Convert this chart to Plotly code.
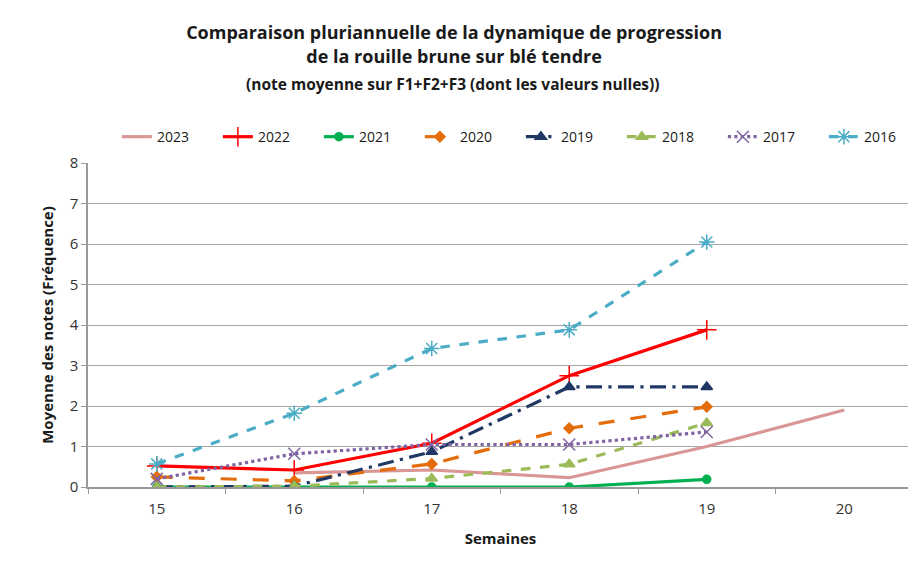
import plotly.graph_objects as go

weeks = ["15", "16", "17", "18", "19", "20"]
s2023 = [None, 0.35, 0.42, 0.23, 1.0, 1.9]
s2022 = [0.52, 0.42, 1.08, 2.75, 3.88, None]
s2021 = [0.0, 0.0, 0.0, 0.0, 0.19, None]
s2020 = [0.25, 0.15, 0.57, 1.45, 1.98, None]
s2019 = [0.0, 0.02, 0.87, 2.47, 2.47, None]
s2018 = [0.0, 0.02, 0.21, 0.56, 1.58, None]
s2017 = [0.2, 0.82, 1.05, 1.05, 1.36, None]
s2016 = [0.57, 1.82, 3.42, 3.88, 6.05, None]

series = [
    ("2023", s2023, "#D99694", "solid", None, 0),
    ("2022", s2022, "#FF0000", "solid", "cross-thin-open", 14),
    ("2021", s2021, "#00B050", "solid", "circle", 8),
    ("2020", s2020, "#E46C0A", "longdash", "diamond", 8),
    ("2019", s2019, "#1F3864", "longdashdot", "triangle-up", 10),
    ("2018", s2018, "#9BBB59", "dash", "triangle-up", 10),
    ("2017", s2017, "#8064A2", "dot", "x-thin-open", 12),
    ("2016", s2016, "#4BACC6", "dash", "asterisk-open", 13),
]

fig = go.Figure()
for name, vals, color, dash, sym, size in series:
    if sym is None:
        mode = "lines"
        marker = None
    else:
        mode = "lines+markers"
        marker = dict(symbol=sym, size=size, color=color, line=dict(color=color, width=1.5))
    fig.add_trace(go.Scatter(x=weeks, y=vals, name=name, mode=mode,
                             line=dict(color=color, width=3.2, dash=dash),
                             marker=marker, connectgaps=False))

font_family = "'Open Sans', sans-serif"
fig.update_layout(
    width=916, height=561,
    margin=dict(l=80, r=11, t=155, b=82, autoexpand=False),
    paper_bgcolor="white", plot_bgcolor="white",
    font=dict(family=font_family, size=14, color="#333333"),
    title=dict(
        text="<b>Comparaison pluriannuelle de la dynamique de progression<br>de la rouille brune sur blé tendre</b>",
        x=0.487, xanchor="center", y=0.944, yanchor="top",
        font=dict(size=18, color="#1a1a1a", family=font_family),
    ),
    annotations=[dict(
        text="<b>(note moyenne sur F1+F2+F3 (dont les valeurs nulles))</b>",
        xref="paper", yref="paper", x=0.442, y=1.244, xanchor="center", yanchor="middle",
        showarrow=False, font=dict(size=15.5, color="#1a1a1a", family=font_family),
    )],
    legend=dict(orientation="h", x=0.035, xanchor="left", y=1.08, yanchor="middle",
                font=dict(size=14, color="#1a1a1a"), entrywidth=56, traceorder="normal"),
    xaxis=dict(type="category", categoryorder="array", categoryarray=weeks,
               range=[-0.5, 5.5], showgrid=False, showline=True, linecolor="#999999",
               linewidth=1.5, ticks="outside", tickson="boundaries", ticklen=5,
               tickcolor="#999999", zeroline=False, ticklabelstandoff=7,
               tickfont=dict(size=15, color="#333333"),
               title=dict(text="<b>Semaines</b>", font=dict(size=15, color="#1a1a1a"), standoff=17)),
    yaxis=dict(range=[0, 8], dtick=1, showgrid=True, gridcolor="#A6A6A6", gridwidth=1.3,
               showline=True, linecolor="#999999", linewidth=1.5, ticks="outside", ticklen=5,
               tickcolor="#999999", zeroline=False, tickfont=dict(size=15, color="#333333"),
               title=dict(text="<b>Moyenne des notes (Fréquence)</b>", font=dict(size=15, color="#1a1a1a"), standoff=12)),
)

fig.write_html("out.html")
